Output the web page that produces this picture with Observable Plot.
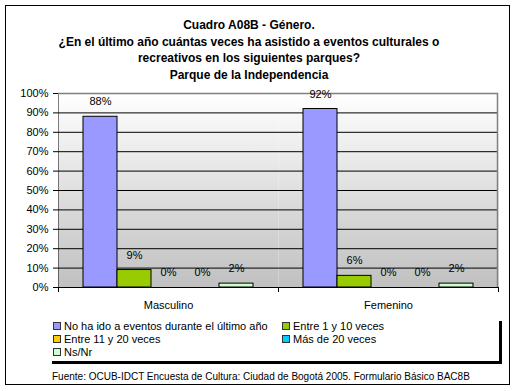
<!DOCTYPE html>
<html>
<head>
<meta charset="utf-8">
<script src="https://cdn.jsdelivr.net/npm/d3@7"></script>
<script src="https://cdn.jsdelivr.net/npm/@observablehq/plot@0.6"></script>
<style>
  html, body { margin: 0; padding: 0; background: white; }
  body { width: 515px; height: 391px; position: relative; overflow: hidden;
         font-family: "Liberation Sans", Arial, sans-serif; color: black; }
  #frame { position: absolute; left: 5px; top: 5px; width: 503px; height: 378px; border: 1px solid black; }
  #title { position: absolute; left: 0; top: 17px; width: 498px; text-align: center;
           font-weight: bold; font-size: 12px; line-height: 16.5px; }
  #chart { position: absolute; left: 0; top: 80px; }
  #legend { position: absolute; left: 49px; top: 318px; width: 450px; height: 43px;
            background: white; box-shadow: 3px 3px 0 black; font-size: 11px; }
  .item { position: absolute; height: 13px; line-height: 13px; white-space: nowrap; }
  .sw { display: inline-block; width: 6px; height: 6px; border: 1px solid #333; margin-right: 3px; vertical-align: 0px; }
  #source { position: absolute; left: 52px; top: 371px; font-size: 10px; white-space: nowrap; }
</style>
</head>
<body>
<div id="frame"></div>
<div id="title"></div>
<div id="chart"></div>
<div id="legend"></div>
<div id="source"></div>
<script>
const titleLines = [
  "Cuadro A08B - Género.",
  "¿En el último año cuántas veces ha asistido a eventos culturales o",
  "recreativos en los siguientes parques?",
  "Parque de la Independencia"
];
const sourceText = "Fuente: OCUB-IDCT Encuesta de Cultura: Ciudad de Bogotá 2005. Formulario Básico BAC8B";
const categories = ["Masculino", "Femenino"];
const series = [
  "No ha ido a eventos durante el último año",
  "Entre 1 y 10 veces",
  "Entre 11 y 20 veces",
  "Más de 20 veces",
  "Ns/Nr"
];
const masculino = [0.88, 0.09, 0, 0, 0.02];
const femenino = [0.92, 0.06, 0, 0, 0.02];
const colors = ["#9999FF", "#99CC00", "#FFCC00", "#00CCFF", "#CCFFCC"];
const yTicks = [0, 0.1, 0.2, 0.3, 0.4, 0.5, 0.6, 0.7, 0.8, 0.9, 1];
// legend order (two columns)
const legendOrder = [0, 1, 2, 3, 4];

const values = [masculino, femenino];
const data = [];
categories.forEach((c, i) => series.forEach((s, j) => data.push({cat: c, series: s, value: values[i][j]})));

const pct = d3.format(".0%");

const W = 515, H = 235, ML = 57, MR = 17, MT = 13, MB = 28;

const chart = Plot.plot({
  width: W, height: H,
  marginLeft: ML, marginRight: MR, marginTop: MT, marginBottom: MB,
  style: {fontFamily: "'Liberation Sans', Arial, sans-serif", fontSize: "11px", color: "black", background: "transparent", overflow: "visible"},
  fx: {domain: categories, padding: 0, label: null, axis: "bottom", tickSize: 0, tickPadding: 14},
  x: {domain: series, paddingInner: 0, paddingOuter: 0.733, axis: null},
  y: {domain: [0, 1], ticks: yTicks, tickFormat: pct, tickSize: 5, tickPadding: 5, label: null, line: true},
  color: {domain: series, range: colors},
  marks: [
    Plot.frame({fill: "url(#bgGrad)", stroke: "none"}),
    Plot.ruleY(yTicks.slice(1, -1), {stroke: "black", strokeWidth: 1}),
    Plot.ruleY([1], {stroke: "#808080", strokeWidth: 1.5}),
    Plot.barY(data, {fx: "cat", x: "series", y: "value", fill: "series", stroke: "black", strokeWidth: 1}),
    Plot.text(data, {fx: "cat", x: "series", y: "value", text: d => pct(d.value), dy: -15, fill: "black"}),
    Plot.ruleY([0], {stroke: "black", strokeWidth: 1})
  ]
});

const svg = d3.select(chart.tagName.toLowerCase() === "svg" ? chart : chart.querySelector("svg"));
const defs = svg.insert("defs", ":first-child");
const grad = defs.append("linearGradient").attr("id", "bgGrad").attr("x1", 0).attr("y1", 0).attr("x2", 0).attr("y2", 1);
grad.append("stop").attr("offset", "0%").attr("stop-color", "#ffffff");
grad.append("stop").attr("offset", "100%").attr("stop-color", "#c0c0c0");

// right border of the plot area and category boundary ticks
const fxs = chart.scale("fx");
const ys = chart.scale("y");
const yTop = ys.apply(1), yBot = ys.apply(0);
const xRight = fxs.range[1];
svg.append("line").attr("x1", xRight - 0.5).attr("x2", xRight - 0.5).attr("y1", yTop).attr("y2", yBot)
  .attr("stroke", "#808080").attr("stroke-width", 1.5);
const bounds = categories.map(c => fxs.apply(c)).concat([xRight]);
bounds.forEach(b => {
  svg.append("line").attr("x1", Math.round(b) + 0.5).attr("x2", Math.round(b) + 0.5)
    .attr("y1", yBot).attr("y2", yBot + 5).attr("stroke", "black");
});

document.getElementById("chart").appendChild(chart);

// title
const t = document.getElementById("title");
titleLines.forEach(l => { const d = document.createElement("div"); d.textContent = l; t.appendChild(d); });

// legend
const lg = document.getElementById("legend");
const pos = [[4, 2], [233, 2], [4, 15], [233, 15], [4, 28]];
legendOrder.forEach((k, i) => {
  const it = document.createElement("div");
  it.className = "item";
  it.style.left = pos[i][0] + "px";
  it.style.top = pos[i][1] + "px";
  const sw = document.createElement("span");
  sw.className = "sw";
  sw.style.background = colors[k];
  it.appendChild(sw);
  it.appendChild(document.createTextNode(series[k]));
  lg.appendChild(it);
});

document.getElementById("source").textContent = sourceText;
</script>
</body>
</html>
